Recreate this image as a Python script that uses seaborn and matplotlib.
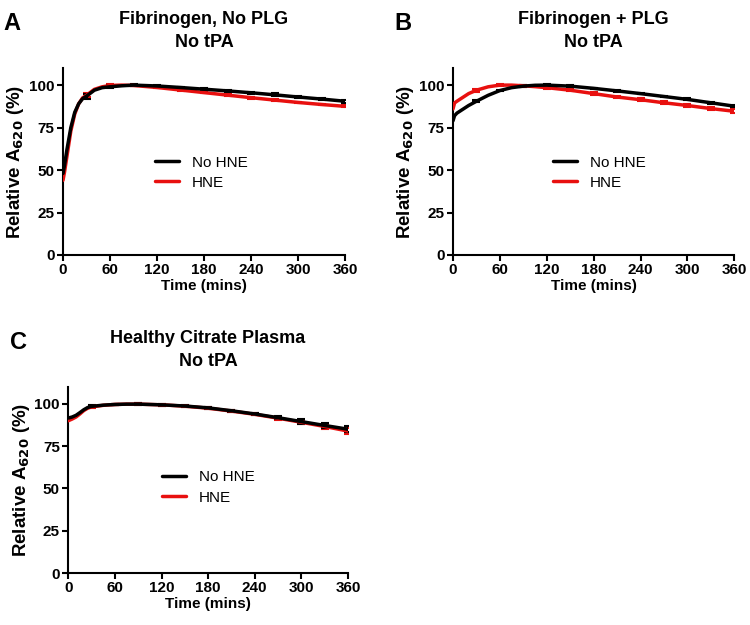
import matplotlib.pyplot as plt
import pandas as pd
import seaborn as sns
import numpy as np

# time points (mins) for the smooth curves
time_a = [0, 2, 5, 10, 15, 20, 25, 30, 40, 50, 60, 75, 90, 120, 150, 180, 210, 240, 270, 300, 330, 360]
a_nohne = [48, 53, 62, 75, 84, 89, 92, 93.5, 97, 98.5, 99, 99.6, 100, 99.5, 98.6, 97.6, 96.6, 95.5, 94.3, 93, 91.8, 90.5]
a_hne = [44, 49, 58, 73, 83, 89, 92.5, 94, 97.5, 99, 99.8, 100, 99.8, 98.6, 97.1, 95.6, 94.1, 92.6, 91.2, 89.8, 88.6, 87.5]

time_b = [0, 2, 5, 10, 20, 30, 45, 60, 75, 90, 105, 120, 150, 180, 210, 240, 270, 300, 330, 360]
b_nohne = [79, 82, 83.5, 85, 88, 90.5, 94, 96.8, 98.5, 99.4, 99.9, 100, 99.4, 98.1, 96.6, 95, 93.3, 91.6, 89.6, 87.6]
b_hne = [86, 89.5, 90.5, 92, 95, 97, 99, 100, 100, 99.6, 99.1, 98.5, 97, 95, 93, 91.4, 89.6, 88, 86.2, 84.6]

time_c = [0, 5, 10, 15, 20, 25, 30, 45, 60, 75, 90, 120, 150, 180, 210, 240, 270, 300, 330, 360]
c_nohne = [91.6, 92.2, 93.2, 94.8, 96.5, 97.8, 98.5, 99.2, 99.6, 99.8, 99.8, 99.4, 98.7, 97.6, 95.9, 94, 91.8, 89.5, 87.2, 85]
c_hne = [90, 91, 92.2, 94, 96, 97.4, 98.2, 99.1, 99.6, 99.8, 99.8, 99.4, 98.6, 97.4, 95.7, 93.8, 91.5, 89.1, 86.6, 83.9]

# error bars every 30 min
err_time = [30, 60, 90, 120, 150, 180, 210, 240, 270, 300, 330, 360]
a_err_nohne = [1.5, 0.8, 0.5, 0.5, 0.5, 0.6, 0.7, 0.7, 0.8, 0.8, 0.8, 0.9]
a_err_hne = [1.2, 0.6, 0.4, 0.4, 0.4, 0.4, 0.5, 0.5, 0.5, 0.5, 0.5, 0.6]
b_err_nohne = [0.6, 0.5, 0.4, 0.4, 0.4, 0.4, 0.5, 0.5, 0.5, 0.6, 0.6, 0.7]
b_err_hne = [0.8, 0.6, 0.5, 0.5, 0.6, 0.7, 0.8, 0.9, 0.9, 1.0, 1.0, 1.1]
c_err_nohne = [0.6, 0.4, 0.4, 0.4, 0.5, 0.5, 0.6, 0.8, 1.0, 1.4, 1.6, 1.8]
c_err_hne = [0.5, 0.4, 0.4, 0.4, 0.4, 0.5, 0.6, 0.7, 0.9, 1.2, 1.4, 1.6]

panels = [
    ('A', 'Fibrinogen, No PLG\nNo tPA', time_a, a_nohne, a_hne, a_err_nohne, a_err_hne,
     [0.084, 0.592, 0.376, 0.299], (0.49, 0.44)),
    ('B', 'Fibrinogen + PLG\nNo tPA', time_b, b_nohne, b_hne, b_err_nohne, b_err_hne,
     [0.604, 0.592, 0.375, 0.299], (0.52, 0.44)),
    ('C', 'Healthy Citrate Plasma\nNo tPA', time_c, c_nohne, c_hne, c_err_nohne, c_err_hne,
     [0.091, 0.083, 0.373, 0.298], (0.50, 0.46)),
]

sns.set_theme(style="ticks", rc={
    'text.color': 'black', 'axes.labelcolor': 'black', 'axes.edgecolor': 'black',
    'xtick.color': 'black', 'ytick.color': 'black',
})
plt.rcParams['font.family'] = ['Liberation Sans', 'DejaVu Sans']
plt.rcParams['font.weight'] = 'bold'
plt.rcParams['axes.labelweight'] = 'bold'
plt.rcParams['mathtext.default'] = 'bf'

palette = {'No HNE': 'black', 'HNE': '#e8100f'}

fig = plt.figure(figsize=(7.5, 6.25), dpi=100)

for letter, title, t, y1, y2, e1, e2, pos, legpos in panels:
    ax = fig.add_axes(pos)
    df = pd.DataFrame({
        'Time': t + t,
        'Value': y2 + y1,
        'Group': ['HNE'] * len(t) + ['No HNE'] * len(t),
    })
    # error bars at 30-min points, taken from the curve
    for grp, yy, ee in [('HNE', y2, e2), ('No HNE', y1, e1)]:
        ymid = np.interp(err_time, t, yy)
        ax.errorbar(err_time, ymid, yerr=ee, fmt='none', ecolor=palette[grp],
                    elinewidth=1.5, capsize=3, capthick=1.5, zorder=3)
    # red drawn first so black lies on top
    sns.lineplot(data=df, x='Time', y='Value', hue='Group', hue_order=['HNE', 'No HNE'],
                 palette=palette, linewidth=2.5, ax=ax, zorder=4)
    ax.set_xlim(0, 360)
    ax.set_ylim(0, 110)
    ax.set_xticks(range(0, 361, 60))
    ax.set_yticks([0, 25, 50, 75, 100])
    ax.set_xlabel('Time (mins)', fontsize=11, fontweight='bold', labelpad=1)
    ax.set_ylabel('Relative A$_{620}$ (%)', fontsize=13.5, fontweight='bold', labelpad=2)
    ax.tick_params(labelsize=11, width=1.5, length=4, pad=2)
    for lab in ax.get_xticklabels() + ax.get_yticklabels():
        lab.set_fontweight('bold')
    sns.despine(ax=ax)
    for s in ['left', 'bottom']:
        ax.spines[s].set_linewidth(1.5)
    ax.set_title(title, fontsize=13, fontweight='bold', pad=15, linespacing=1.45)
    ax.text(-0.21, 1.30, letter, transform=ax.transAxes, fontsize=17, fontweight='bold',
            ha='left', va='top')
    handles, labels = ax.get_legend_handles_labels()
    ax.legend(handles[::-1], labels[::-1], loc='center', bbox_to_anchor=legpos,
              frameon=False, fontsize=11, handlelength=1.6, labelspacing=0.4)
    for txt in ax.get_legend().get_texts():
        txt.set_fontweight('normal')

plt.savefig('out.png', dpi=100)
